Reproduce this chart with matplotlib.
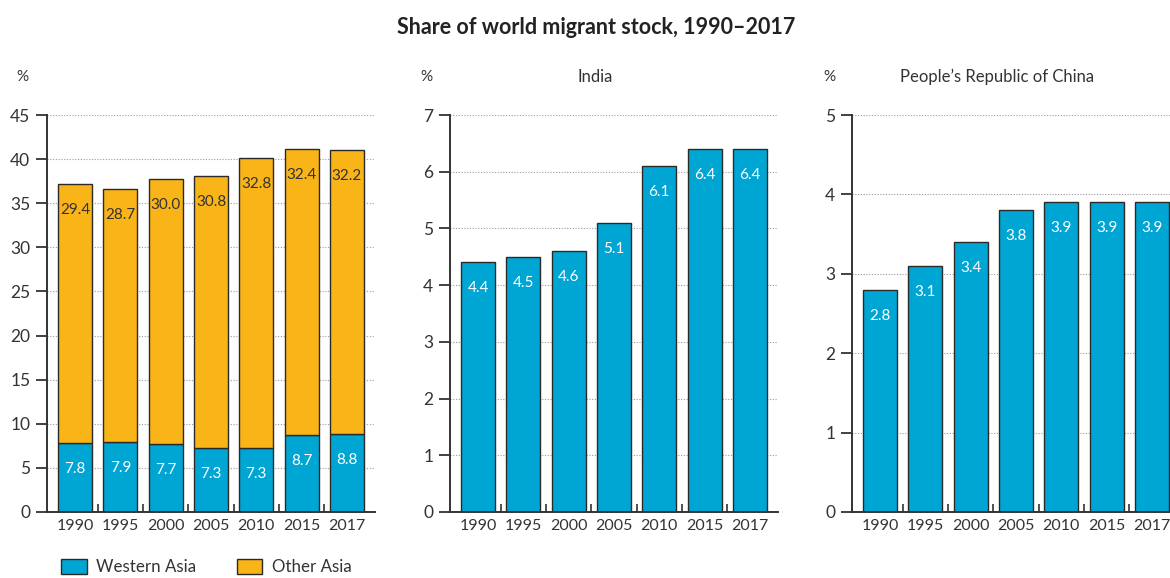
import matplotlib
matplotlib.use('Agg')
import matplotlib.pyplot as plt
from matplotlib.patches import Patch
import numpy as np

plt.rcParams['font.family'] = ['Lato', 'DejaVu Sans']

years = ['1990', '1995', '2000', '2005', '2010', '2015', '2017']

# Asia: stacked shares
western_asia = [7.8, 7.9, 7.7, 7.3, 7.3, 8.7, 8.8]
other_asia = [29.4, 28.7, 30.0, 30.8, 32.8, 32.4, 32.2]

india = [4.4, 4.5, 4.6, 5.1, 6.1, 6.4, 6.4]
china = [2.8, 3.1, 3.4, 3.8, 3.9, 3.9, 3.9]

C_BLUE = '#00a6d3'
C_ORANGE = '#f9b418'
C_EDGE = '#2a2a2a'
C_TEXT = '#333333'

W, H = 1170, 578
fig = plt.figure(figsize=(W / 100, H / 100), dpi=100)

x = np.arange(len(years))
bw = 0.75


def px_axes(left, right, top=115, bottom=512):
    return fig.add_axes([left / W, 1 - bottom / H, (right - left) / W, (bottom - top) / H])


def style(ax, ymax, step):
    ax.set_xlim(-0.62, 6.62)
    ax.set_ylim(0, ymax)
    ax.set_yticks(np.arange(0, ymax + 0.01, step))
    for s in ['top', 'right']:
        ax.spines[s].set_visible(False)
    for s in ['left', 'bottom']:
        ax.spines[s].set_color(C_TEXT)
        ax.spines[s].set_linewidth(1.4)
    ax.yaxis.grid(True, color='#9a9a9a', linestyle=(0, (1, 1.5)), lw=0.8)
    ax.set_axisbelow(True)
    ax.tick_params(axis='y', length=8, width=1.3, color=C_TEXT, labelsize=12.5,
                   labelcolor=C_TEXT, pad=4)
    ax.set_xticks(x)
    ax.set_xticklabels(years)
    ax.tick_params(axis='x', length=0, labelsize=11.5, labelcolor=C_TEXT, pad=5)
    ax.set_xticks(x[:-1] + 0.5, minor=True)
    ax.tick_params(axis='x', which='minor', direction='in', length=6, width=1.2,
                   color=C_TEXT)


def label_bars(ax, xs, tops, vals, color):
    for xi, t, v in zip(xs, tops, vals):
        ax.annotate(f'{v:.1f}', xy=(xi, t), xytext=(0, -26), textcoords='offset pixels',
                    ha='center', va='center', fontsize=11, color=color)


# Panel 1: Asia, stacked
ax1 = px_axes(47, 375)
ax1.bar(x, western_asia, bw, color=C_BLUE, edgecolor=C_EDGE, lw=1)
ax1.bar(x, other_asia, bw, bottom=western_asia, color=C_ORANGE, edgecolor=C_EDGE, lw=1)
style(ax1, 45, 5)
label_bars(ax1, x, western_asia, western_asia, 'white')
totals = [w + o for w, o in zip(western_asia, other_asia)]
label_bars(ax1, x, totals, other_asia, C_TEXT)

# Panel 2: India
ax2 = px_axes(450, 778)
ax2.bar(x, india, bw, color=C_BLUE, edgecolor=C_EDGE, lw=1)
style(ax2, 7, 1)
label_bars(ax2, x, india, india, 'white')

# Panel 3: PRC
ax3 = px_axes(852, 1180)
ax3.bar(x, china, bw, color=C_BLUE, edgecolor=C_EDGE, lw=1)
style(ax3, 5, 1)
label_bars(ax3, x, china, china, 'white')

# Titles and unit labels
fig.text(596 / W, 1 - 27 / H, 'Share of world migrant stock, 1990\u20132017',
         ha='center', va='center', fontsize=15.5, fontweight='bold', color='#222222')
for px in [22, 426, 829]:
    fig.text(px / W, 1 - 77 / H, '%', ha='center', va='center', fontsize=11, color=C_TEXT)
fig.text(595 / W, 1 - 77 / H, 'India', ha='center', va='center', fontsize=12, color=C_TEXT)
fig.text(997 / W, 1 - 77 / H, 'People\u2019s Republic of China', ha='center', va='center',
         fontsize=12, color=C_TEXT)

handles = [Patch(facecolor=C_BLUE, edgecolor=C_EDGE, lw=1),
           Patch(facecolor=C_ORANGE, edgecolor=C_EDGE, lw=1)]
fig.legend(handles, ['Western Asia', 'Other Asia'], loc='lower left',
           bbox_to_anchor=(46 / W, -0.022), ncol=2, frameon=False, fontsize=12.2,
           handlelength=1.5, handleheight=1.0, handletextpad=0.55, columnspacing=2.4,
           labelcolor=C_TEXT)

fig.savefig('out.png', dpi=100, facecolor='white')
